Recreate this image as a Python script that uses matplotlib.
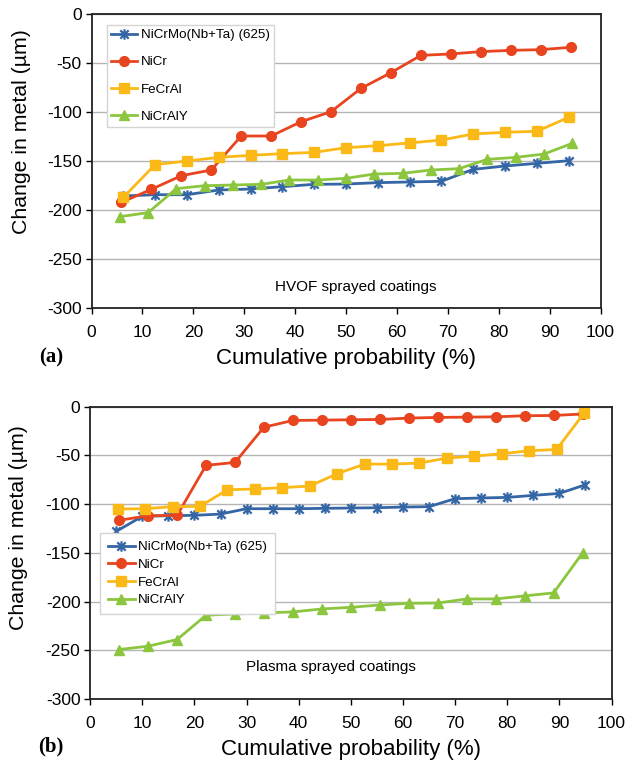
import matplotlib
matplotlib.use("Agg")
import matplotlib.pyplot as plt
from matplotlib.path import Path

plt.rcParams['font.family'] = ['Liberation Sans', 'DejaVu Sans']
plt.rcParams['axes.unicode_minus'] = False

# cumulative probability = i/(n+1)
def cumprob(n):
    return [100.0 * i / (n + 1) for i in range(1, n + 1)]

# (a) HVOF sprayed coatings
hvof_nicrmo = [-185.7, -184.4, -184.4, -179.6, -178.6, -176.2, -173.8, -173.5,
               -172.1, -171.4, -170.7, -158.5, -155.1, -152.4, -149.7]
hvof_nicr = [-192.2, -178.9, -165.0, -159.2, -124.5, -124.5, -109.9, -99.7,
             -75.9, -59.9, -42.2, -40.8, -38.4, -37.1, -36.4, -34.0]
hvof_fecral = [-187.1, -153.7, -150.0, -146.3, -144.2, -142.5, -141.2, -136.4,
               -134.4, -131.6, -128.6, -122.4, -120.7, -119.7, -105.4]
hvof_nicraly = [-206.8, -202.7, -178.2, -175.2, -174.5, -173.8, -169.4, -169.4,
                -167.7, -163.3, -162.6, -159.2, -157.8, -148.3, -146.3, -142.9,
                -132.0]

# (b) Plasma sprayed coatings
ps_nicrmo = [-127.9, -112.5, -111.9, -111.5, -110.2, -104.7, -104.7, -104.7,
             -104.3, -104.0, -103.7, -103.0, -102.6, -94.4, -93.7, -93.1,
             -91.0, -89.0, -80.1]
ps_nicr = [-116.6, -111.9, -111.5, -60.2, -57.2, -21.0, -14.1, -13.8, -13.4,
           -13.1, -11.7, -11.0, -10.7, -10.4, -9.3, -9.0, -7.5]
ps_fecral = [-105.0, -104.7, -102.6, -102.3, -85.2, -84.5, -83.1, -81.4, -68.8,
             -58.9, -58.9, -57.9, -52.7, -50.7, -48.3, -45.2, -43.9, -6.6]
ps_nicraly = [-249.2, -245.8, -239.0, -214.0, -212.7, -211.7, -210.6, -207.6,
              -205.9, -203.5, -201.8, -201.5, -197.3, -197.3, -194.2, -191.1,
              -150.1]

labels = ['NiCrMo(Nb+Ta) (625)', 'NiCr', 'FeCrAl', 'NiCrAlY']
colors = ['#3465a4', '#e8441f', '#fbb917', '#8cc63e']

# Excel-style star: an x with a vertical bar
star = Path([(-1, -1), (1, 1), (-1, 1), (1, -1), (0, -1.25), (0, 1.25)],
            [Path.MOVETO, Path.LINETO, Path.MOVETO, Path.LINETO,
             Path.MOVETO, Path.LINETO])
markers = [star, 'o', 's', '^']
msizes = [7.5, 7.0, 6.8, 7.8]

W, H = 629, 764
fig = plt.figure(figsize=(W / 100, H / 100), dpi=100)


def panel(box, series, note, note_xy, leg_anchor, leg_space, leg_pad, letter, letter_y, ylab_y):
    l, t, r, b = box
    ax = fig.add_axes([l / W, (H - b) / H, (r - l) / W, (b - t) / H])
    for ys, lab, c, m, ms in zip(series, labels, colors, markers, msizes):
        ax.plot(cumprob(len(ys)), ys, color=c, lw=2.0, marker=m, ms=ms,
                mec=c, mfc=c, mew=1.6 if m is star else 1.0, label=lab)
    ax.set_xlim(0, 100)
    ax.set_ylim(-300, 0)
    ax.set_xticks(range(0, 101, 10))
    ax.set_yticks(range(-300, 1, 50))
    ax.yaxis.grid(True, color='#b4b4b4', lw=1.0)
    ax.set_axisbelow(True)
    for s in ax.spines.values():
        s.set_color('#222222')
        s.set_linewidth(1.3)
    ax.tick_params(axis='x', direction='out', length=4, width=1, pad=8, labelsize=12.5)
    ax.tick_params(axis='y', direction='out', length=4, width=1, pad=3, labelsize=12.5)
    ax.set_xlabel('Cumulative probability (%)', fontsize=16, labelpad=6)
    ax.set_ylabel('Change in metal (µm)', fontsize=15.3)
    ax.yaxis.set_label_coords(-0.119, ylab_y)
    ax.text(note_xy[0], note_xy[1], note, fontsize=11, ha='center', va='center')
    leg = ax.legend(loc='upper left', bbox_to_anchor=leg_anchor, borderaxespad=0,
                    fontsize=9.6, handlelength=2.0, handletextpad=0.25,
                    labelspacing=leg_space, borderpad=leg_pad, fancybox=False,
                    framealpha=1, edgecolor='#d4d4d4')
    leg.get_frame().set_linewidth(1.0)
    fig.text(51 / W, (H - letter_y) / H, letter, fontsize=15, fontweight='bold',
             family='Liberation Serif', ha='center', va='center')
    return ax


panel((91.5, 14, 600.5, 308),
      [hvof_nicrmo, hvof_nicr, hvof_fecral, hvof_nicraly],
      'HVOF sprayed coatings', (51.9, -279), (0.03, 0.963), 1.12, 0.3,
      '(a)', 357, 0.60)

panel((90.2, 406.7, 611.5, 699),
      [ps_nicrmo, ps_nicr, ps_fecral, ps_nicraly],
      'Plasma sprayed coatings', (46.1, -267.4), (0.019, 0.568), 0.4, 0.6,
      '(b)', 746, 0.587)

fig.savefig('out.png', dpi=100)
